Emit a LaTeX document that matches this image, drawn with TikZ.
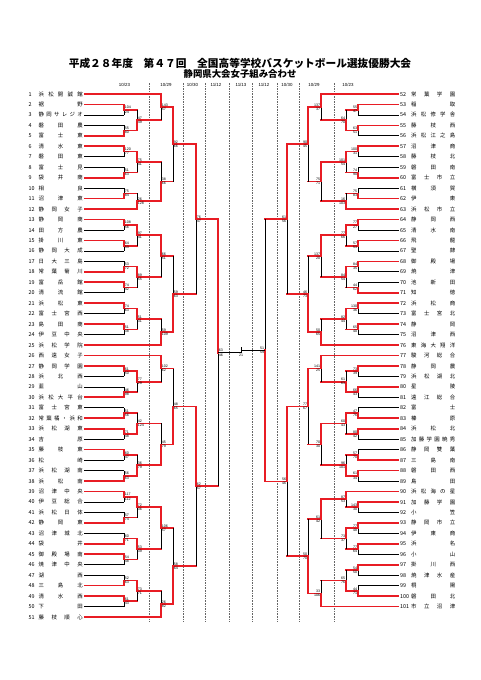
\documentclass[tikz,border=0pt]{standalone}
\usepackage{fontspec}
\usepackage{tikz}
\usetikzlibrary{calc}
\newfontfamily\jp{Noto Sans CJK JP}
\newfontfamily\lat{Liberation Sans}
\definecolor{winred}{RGB}{232,28,36}

% spread a name over the name column
\def\nmloop#1#2\nmend{#1\if\relax\detokenize{#2}\relax\else\hfill\nmloop#2\nmend\fi}
\newcommand\nm[1]{\makebox[44pt][s]{\expandafter\nmloop#1\nmend}}

% one game: top, bottom, winner (t/b), step to next round, scores, label side, name
\newcommand\bout[8]{%
  \coordinate (#8-m) at ($(#1)!0.5!(#2)$);
  \if t#3
    \draw[lose] (#8-m) -- (#2); \draw[win] (#1) -- (#8-m);
  \else
    \draw[lose] (#1) -- (#8-m); \draw[win] (#8-m) -- (#2);
  \fi
  \draw[adv] (#8-m) -- ++(#4,0) coordinate (#8);
  \node[score, anchor=south #7] at (#8-m) {#5};
  \node[score, anchor=north #7] at (#8-m) {#6};
}

\tikzset{
  win/.style={draw=winred, line width=1.7pt, line cap=rect},
  lose/.style={draw=black, line width=0.7pt},
  adv/.style={win},
  score/.style={font=\lat\fontsize{3.6}{3.6}\selectfont, inner sep=0.6pt},
  team/.style={font=\jp\fontsize{5.4}{5.4}\selectfont, inner sep=1.5pt},
  sepline/.style={draw=black!60, line width=0.4pt, dash pattern=on 1.6pt off 1pt},
  datel/.style={font=\lat\fontsize{4.4}{4.4}\selectfont},
}

\begin{document}
\begin{tikzpicture}[x=1pt,y=-1pt]
  \fill[white] (0,0) rectangle (481,680);
  \useasboundingbox (0,0) rectangle (481,680);

  \node[font=\jp\bfseries\fontsize{10.7}{12}\selectfont] (ttl) at (240,63)
    {平成２８年度　第４７回　全国高等学校バスケットボール選抜優勝大会};
  \node[font=\jp\bfseries\fontsize{9.4}{10}\selectfont] (sub) at (240,73.5)
    {静岡県大会女子組み合わせ};

  % day columns
  \foreach \x in {149,183,205.5,229.5,252.5,277,299.5,334}
    \draw[sepline] (\x,83) -- (\x,622);
  \foreach \x/\dt in {124.5/{10/23},166/{10/29},192.5/{10/30},216/{11/12},241/{11/13},
                      264/{11/12},287/{10/30},314/{10/29},348/{10/23}}
    \node[datel, fill=white, inner sep=0.8pt] at (\x,85) {\dt};

  % left teams
  \foreach \k/\nam/\xe/\st in {1/浜松開誠館/161/win,2/裾野/124/win,3/静岡サレジオ/124/lose,
    4/磐田農/124/lose,5/富士東/124/win,6/清水東/124/win,7/磐田東/124/lose,8/富士見/124/lose,
    9/袋井商/124/win,10/相良/124/lose,11/沼津東/124/win,12/静岡女子/137/win,13/静岡商/124/win,
    14/田方農/124/lose,15/掛川東/124/win,16/静岡大成/124/lose,17/日大三島/124/lose,
    18/常葉菊川/124/win,19/富岳館/124/win,20/清流館/124/lose,21/浜松東/124/win,
    22/富士宮西/124/lose,23/島田商/124/win,24/伊豆中央/124/lose,25/浜松学院/161/win,
    26/西遠女子/161/win,27/静岡学園/124/win,28/浜北西/124/lose,29/韮山/124/lose,
    30/浜松大平台/124/win,31/富士宮東/124/lose,32/常葉橘・浜和/124/win,33/浜松湖東/124/win,
    34/吉原/124/lose,35/藤枝東/124/win,36/松崎/124/lose,37/浜松湖南/124/lose,
    38/浜松南/124/win,39/沼津中央/124/win,40/伊豆総合/124/lose,41/浜松日体/124/lose,
    42/静岡東/124/win,43/沼津城北/124/lose,44/袋井/124/win,45/御殿場南/124/win,
    46/焼津中央/124/lose,47/湖西/124/lose,48/三島北/124/win,49/清水西/124/win,
    50/下田/124/lose,51/藤枝順心/161/win}{
    \pgfmathsetmacro\yy{94+(\k-1)*10.46}
    \node[team, anchor=west] (t\k) at (27,\yy) {\makebox[10pt][l]{\k}\nm{\nam}};
    \coordinate (p\k) at (\xe,\yy);
    \draw[\st] (t\k.east) -- (p\k);
  }

  % right teams
  \foreach \k/\nam/\xe/\st in {52/常葉学園/321/win,53/稲取/358/win,54/浜松修学舎/358/lose,
    55/藤枝西/358/win,56/浜松江之島/358/lose,57/沼津商/358/win,58/藤枝北/358/lose,
    59/磐田南/358/lose,60/富士市立/358/win,61/横須賀/358/lose,62/伊東/358/win,
    63/浜松市立/346/win,64/静岡西/358/win,65/清水南/358/lose,66/飛龍/358/win,
    67/聖隷/358/lose,68/御殿場/358/win,69/焼津/358/lose,70/池新田/358/lose,71/知徳/358/win,
    72/浜松商/358/win,73/富士宮北/358/lose,74/静岡/358/win,75/沼津西/358/lose,
    76/東海大翔洋/321/win,77/駿河総合/321/win,78/静岡農/358/win,79/浜松湖北/358/lose,
    80/星陵/358/win,81/遠江総合/358/lose,82/富士/358/lose,83/榛原/358/win,84/浜松北/358/win,
    85/加藤学園暁秀/358/lose,86/静岡雙葉/358/lose,87/三島南/358/win,88/磐田西/358/win,
    89/島田/358/lose,90/浜松海の星/346/win,91/加藤学園/358/win,92/小笠/358/lose,
    93/静岡市立/358/win,94/伊東商/358/lose,95/浜名/358/win,96/小山/358/lose,
    97/掛川西/358/win,98/焼津水産/358/lose,99/桐陽/358/lose,100/磐田北/358/win,
    101/市立沼津/321/win}{
    \pgfmathsetmacro\yy{94+(\k-52)*10.46}
    \node[team, anchor=west] (t\k) at (398.5,\yy) {\makebox[11pt][l]{\k}\nm{\nam}};
    \coordinate (p\k) at (\xe,\yy);
    \draw[\st] (p\k) -- (t\k.west);
  }

  % left half
  \foreach \ia/\ib/\wn/\dx/\sa/\sb/\oname in {p2/p3/t/13/104/24/q2,p4/p5/b/13/55/80/q4,
    p6/p7/t/13/120/77/q6,p8/p9/b/13/51/63/q8,p10/p11/b/13/75/84/q10,p13/p14/t/13/108/56/q13,
    p15/p16/t/13/64/53/q15,p17/p18/b/13/53/72/q17,p19/p20/t/13/74/42/q19,
    p21/p22/t/13/74/63/q21,p23/p24/t/13/51/38/q23,p27/p28/t/13/61/50/q27,
    p29/p30/b/13/46/98/q29,p31/p32/b/13/51/56/q31,p33/p34/t/13/71/48/q33,
    p35/p36/t/13/60/47/q35,p37/p38/b/13/56/63/q37,p39/p40/t/13/117/112/q39,
    p41/p42/b/13/57/74/q41,p43/p44/b/13/60/71/q43,p45/p46/t/13/54/48/q45,
    p47/p48/b/13/52/63/q47,p49/p50/t/13/61/43/q49,
    q2/q4/b/24/47/49/r2,q6/q8/t/24/75/41/r6,q10/p12/b/24/26/128/r10,q13/q15/t/24/97/41/r13,
    q17/q19/t/24/89/55/r17,q21/q23/t/24/51/31/r21,q27/q29/t/24/77/29/r27,
    q31/q33/b/24/42/124/r31,q35/q37/b/24/36/79/r35,q39/q41/t/24/72/36/r39,
    q43/q45/t/24/53/39/r43,q47/q49/t/24/73/71/r47,
    p1/r2/t/12/143/57/s1,r6/r10/b/12/38/66/s6,r13/r17/t/12/66/51/s13,r21/p25/b/12/59/109/s21,
    p26/r27/t/12/102/62/s26,r31/r35/b/12/45/79/s31,r39/r43/t/12/106/57/s39,
    r47/p51/b/12/26/82/s47,
    s1/s6/t/23/92/66/u1,s13/s21/b/23/59/63/u13,s26/s31/b/23/48/65/u26,s39/s47/b/23/58/64/u39,
    u1/u13/t/22/76/47/v1,u26/u39/t/22/62/57/v26}
    {\bout{\ia}{\ib}{\wn}{\dx}{\sa}{\sb}{west}{\oname}}

  % right half
  \foreach \ia/\ib/\wn/\dx/\sa/\sb/\oname in {p53/p54/t/-12/55/47/q53,p55/p56/t/-12/63/51/q55,
    p57/p58/t/-12/100/31/q57,p59/p60/b/-12/74/90/q59,p61/p62/b/-12/75/83/q61,
    p64/p65/t/-12/77/27/q64,p66/p67/t/-12/57/53/q66,p68/p69/t/-12/84/35/q68,
    p70/p71/b/-12/44/62/q70,p72/p73/t/-12/130/36/q72,p74/p75/t/-12/65/40/q74,
    p78/p79/t/-12/73/39/q78,p80/p81/t/-12/66/43/q80,p82/p83/b/-12/47/76/q82,
    p84/p85/t/-12/80/42/q84,p86/p87/b/-12/57/70/q86,p88/p89/t/-12/61/34/q88,
    p91/p92/t/-12/143/30/q91,p93/p94/t/-12/77/48/q93,p95/p96/t/-12/77/64/q95,
    p97/p98/t/-12/54/50/q97,p99/p100/b/-12/44/71/q99,
    q53/q55/b/-25/64/70/r53,q57/q59/t/-25/101/54/r57,q61/p63/b/-25/16/103/r61,
    q64/q66/t/-25/77/66/r64,q68/q70/t/-25/84/54/r68,q72/q74/t/-25/82/44/r72,
    q78/q80/b/-25/61/63/r78,q82/q84/t/-25/60/43/r82,q86/q88/b/-25/96/101/r86,
    p90/q91/t/-25/87/53/r90,q93/q95/t/-25/73/37/r93,q97/q99/b/-25/65/76/r97,
    p52/r53/t/-13/137/37/s52,r57/r61/t/-13/75/71/s57,r64/r68/t/-13/137/20/s64,
    r72/p76/b/-13/50/65/s72,p77/r78/t/-13/141/25/s77,r82/r86/t/-13/70/30/s82,
    r90/r93/t/-13/61/42/s90,r97/p101/b/-13/33/106/s97,
    s52/s57/t/-21/90/45/u52,s64/s72/b/-21/46/73/u64,s77/s82/t/-21/77/67/u77,
    s90/s97/b/-21/50/70/u90,
    u52/u64/t/-22/61/56/v52,u77/u90/t/-22/56/46/v77}
    {\bout{\ia}{\ib}{\wn}{\dx}{\sa}{\sb}{east}{\oname}}

  % semi-finals and final
  \begin{scope}[adv/.style={lose}]
    \bout{v1}{v26}{t}{23}{63}{46}{west}{fl}
    \bout{v52}{v77}{b}{-24}{51}{59}{east}{fr}
  \end{scope}
  \draw[lose] (fl) -- ++(0,-6);
  \node[score, anchor=north] (fin) at (fl) {21};
\end{tikzpicture}
\end{document}
